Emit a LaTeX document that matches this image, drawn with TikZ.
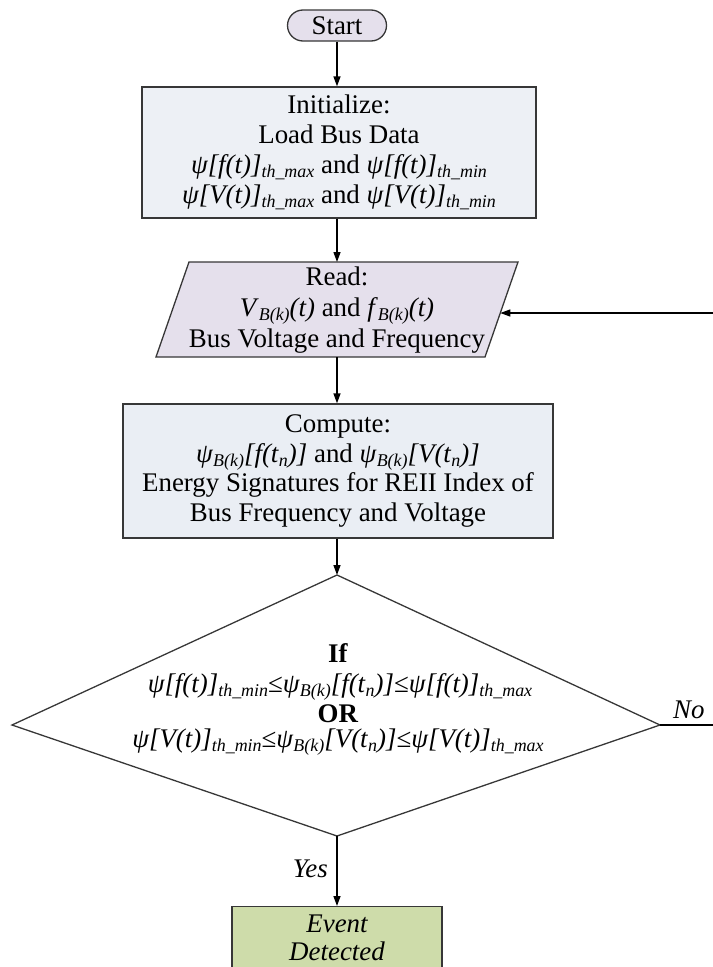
\documentclass[tikz,border=0pt]{standalone}
\usepackage{fontspec}
\setmainfont{Liberation Serif}
\usetikzlibrary{arrows.meta}
\definecolor{startfill}{RGB}{229,224,236}
\definecolor{initfill}{RGB}{237,240,245}
\definecolor{readfill}{RGB}{229,224,236}
\definecolor{compfill}{RGB}{234,238,244}
\definecolor{eventfill}{RGB}{206,220,170}
\definecolor{edgecol}{RGB}{55,55,55}
\newcommand\sbs[1]{\raisebox{-4bp}{\fontsize{18}{18}\selectfont\itshape #1}}
\begin{document}
\begin{tikzpicture}[x=1bp,y=-1bp,
  box/.style={draw=edgecol, line width=1.3bp, inner sep=0pt, align=center, font=\fontsize{27}{30}\selectfont},
  conn/.style={line width=1.3bp, draw=black, -{Triangle[length=10bp,width=7bp]}},
  plainline/.style={line width=1.3bp, draw=black},
  lbl/.style={font=\fontsize{27}{29}\selectfont\itshape, inner sep=0pt, anchor=base},
  dtext/.style={font=\fontsize{27}{29}\selectfont, inner sep=0pt, anchor=base}]
\useasboundingbox (0,0) rectangle (713,967);
\clip (0,0) rectangle (713,967);

% Start
\node[box, fill=startfill, rounded corners=15.5bp, minimum width=99bp, minimum height=31bp] (start) at (337,25.5) {Start};

% Initialize
\node[box, fill=initfill, minimum width=394bp, minimum height=131bp] (init) at (339,152.5)
 {Initialize:\\Load Bus Data\\
  \textit{ψ[f(t)]}\sbs{th\_max} and \textit{ψ[f(t)]}\sbs{th\_min}\\
  \textit{ψ[V(t)]}\sbs{th\_max} and \textit{ψ[V(t)]}\sbs{th\_min}};

% Read parallelogram
\coordinate (rtl) at (189,262);
\coordinate (rtr) at (518,262);
\coordinate (rbr) at (485,357);
\coordinate (rbl) at (156,357);
\coordinate (readtop) at (337,262);
\coordinate (readbot) at (337,357);
\coordinate (readright) at (500.3,313);
\draw[fill=readfill, draw=edgecol, line width=1.3bp] (rtl) -- (rtr) -- (rbr) -- (rbl) -- cycle;
\node[box, draw=none, font=\fontsize{27}{31}\selectfont] (read) at (337,310)
 {Read:\\
  \textit{V}\sbs{B(k)}\textit{(t)} and \textit{f}\sbs{B(k)}\textit{(t)}\\
  Bus Voltage and Frequency};

% Compute
\node[box, fill=compfill, minimum width=430bp, minimum height=134bp] (comp) at (338,471)
 {Compute:\\
  \textit{ψ}\sbs{B(k)}\textit{[f(t}\sbs{n}\textit{)]} and \textit{ψ}\sbs{B(k)}\textit{[V(t}\sbs{n}\textit{)]}\\
  Energy Signatures for REII Index of\\
  Bus Frequency and Voltage};

% Decision diamond
\coordinate (dT) at (337,575);
\coordinate (dR) at (660,725);
\coordinate (dB) at (337,836);
\coordinate (dL) at (12,725);
\draw[plainline, draw=edgecol] (dT) -- (dR) -- (dB) -- (dL) -- cycle;
\node[dtext] (dif) at (338,662) {\textbf{If}};
\node[dtext] (dfl) at (340,692) {\textit{ψ[f(t)]}\sbs{th\_min}≤\textit{ψ}\sbs{B(k)}\textit{[f(t}\sbs{n}\textit{)]}≤\textit{ψ[f(t)]}\sbs{th\_max}};
\node[dtext] (dor) at (338,722) {\textbf{OR}};
\node[dtext] (dvl) at (338,747) {\textit{ψ[V(t)]}\sbs{th\_min}≤\textit{ψ}\sbs{B(k)}\textit{[V(t}\sbs{n}\textit{)]}≤\textit{ψ[V(t)]}\sbs{th\_max}};

% Event detected
\node[box, fill=eventfill, minimum width=210bp, minimum height=90bp, anchor=north] (event) at (337,906) {};
\node[lbl, anchor=center, align=center, font=\fontsize{27}{28}\selectfont\itshape] (evtxt) at (337,938) {Event\\Detected};

% Connectors
\draw[conn] (start.south) -- (start.south |- init.north);
\draw[conn] (readtop |- init.south) -- (readtop);
\draw[conn] (readbot) -- (readbot |- comp.north);
\draw[conn] (dT |- comp.south) -- (dT);
\draw[conn] (dB) -- (dB |- event.north);
\node[lbl, anchor=base east] (yes) at (328,877) {Yes};

\coordinate (noend) at (713,725);
\draw[plainline] (dR) -- (noend);
\node[lbl, anchor=base west] (no) at (673,718) {No};

\coordinate (loopin) at (713,313);
\draw[conn] (loopin) -- (readright);
\end{tikzpicture}
\end{document}
